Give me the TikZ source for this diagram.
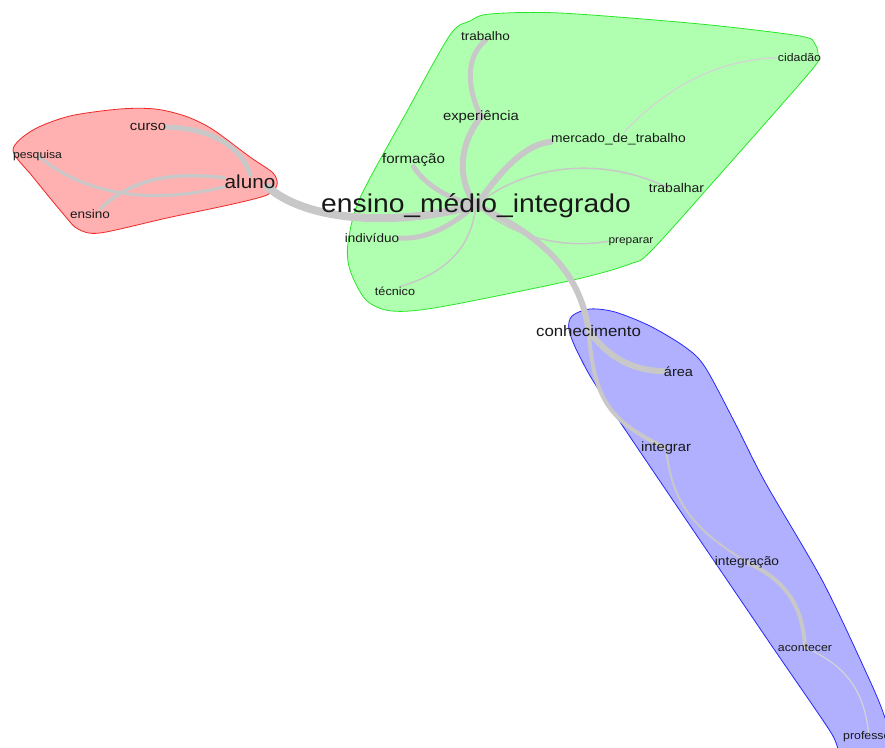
\documentclass[tikz,border=0pt]{standalone}
\usepackage{fontspec}
\setmainfont{Liberation Sans}[FakeStretch=1.1]
\usetikzlibrary{calc}
\pgfdeclarelayer{hulls}
\pgfdeclarelayer{edges}
\pgfsetlayers{hulls,edges,main}
\definecolor{edgegray}{RGB}{200,200,200}
\definecolor{edgelight}{RGB}{212,212,212}
\definecolor{hullred}{RGB}{255,176,176}
\definecolor{hullgreen}{RGB}{176,255,176}
\definecolor{hullblue}{RGB}{176,176,255}
\definecolor{linered}{RGB}{240,40,40}
\definecolor{linegreen}{RGB}{40,230,40}
\definecolor{lineblue}{RGB}{40,40,245}
\begin{document}
\begin{tikzpicture}[x=1pt,y=-1pt,
  lbl/.style={font=\fontsize{#1}{#1}\selectfont, inner sep=0pt, anchor=base, text=black!90},
  link/.style={draw=edgegray, line width=#1, line cap=round},
  hull/.style={line width=0.8pt}]
\useasboundingbox (0,0) rectangle (885,747);

% labels
\node[lbl=25.7] (emi) at (476,212) {ensino\_médio\_integrado};
\node[lbl=18.8] (aluno) at (250,188.5) {aluno};
\node[lbl=13.4] (curso) at (148,130.7) {curso};
\node[lbl=11.1] (pesquisa) at (37.5,158.5) {pesquisa};
\node[lbl=12.3] (ensino) at (90,218.3) {ensino};
\node[lbl=12.3] (trabalho) at (485.5,40) {trabalho};
\node[lbl=11.2] (cidadao) at (799.5,61.7) {cidadão};
\node[lbl=13.5] (experiencia) at (481,120) {experiência};
\node[lbl=12.6] (mercado) at (618.5,142) {mercado\_de\_trabalho};
\node[lbl=13.7] (formacao) at (413.5,163.5) {formação};
\node[lbl=12.7] (trabalhar) at (676.5,192.5) {trabalhar};
\node[lbl=12.3] (individuo) at (372,242.5) {indivíduo};
\node[lbl=10.8] (preparar) at (631,243) {preparar};
\node[lbl=11.5] (tecnico) at (395,295) {técnico};
\node[lbl=15.3] (conhecimento) at (588.5,336) {conhecimento};
\node[lbl=13.2] (area) at (678.5,376) {área};
\node[lbl=13.4] (integrar) at (666,451.5) {integrar};
\node[lbl=12.5] (integracao) at (747,565.5) {integração};
\node[lbl=11.2] (acontecer) at (805,651) {acontecer};
\node[lbl=11.2, anchor=base west] (professor) at (843,739.5) {professor};

% connectors
\begin{pgfonlayer}{edges}
\draw[link=8] ([xshift=-8pt,yshift=-5pt]aluno.east) .. controls (305,220) and (390,228) .. (emi.center);
\draw[link=5] (curso.east) .. controls (215,128) and (243,150) .. (aluno.north);
\draw[link=3] (pesquisa.center) .. controls (85,195) and (150,205) .. ([yshift=-5pt]aluno.west);
\draw[link=3.5] ([xshift=10pt]ensino.north) .. controls (125,185) and (160,170) .. ([yshift=4pt]aluno.west);
\draw[link=6] (emi.center) .. controls (460,185) and (455,150) .. (experiencia.center);
\draw[link=5] (experiencia.center) .. controls (470,95) and (462,60) .. (trabalho.south);
\draw[link=5] (emi.center) .. controls (450,200) and (425,185) .. (formacao.south);
\draw[link=6] (emi.center) .. controls (495,180) and (520,145) .. ([yshift=-3pt]mercado.west);
\draw[link=1.2, draw=edgelight] ([xshift=5pt]mercado.north) .. controls (650,105) and (700,60) .. (cidadao.west);
\draw[link=1.5] (emi.center) .. controls (525,165) and (600,155) .. ([xshift=-8pt]trabalhar.center);
\draw[link=1.5] (emi.center) .. controls (510,235) and (560,250) .. (preparar.west);
\draw[link=5] (emi.center) .. controls (455,222) and (430,240) .. (individuo.east);
\draw[link=1.5] (emi.center) .. controls (472,240) and (455,270) .. ([xshift=6pt]tecnico.north);
\draw[link=6] (emi.center) .. controls (540,235) and (580,270) .. (conhecimento.center);
\draw[link=6] (conhecimento.center) .. controls (605,352) and (625,370) .. (area.west);
\draw[link=4] (conhecimento.center) .. controls (594,395) and (605,420) .. (integrar.center);
\draw[link=2] (integrar.center) .. controls (672,505) and (695,530) .. (integracao.center);
\draw[link=4] (integracao.center) .. controls (785,580) and (803,605) .. (acontecer.center);
\draw[link=1.2, draw=edgelight] (acontecer.center) .. controls (845,665) and (865,690) .. (professor.center);
\end{pgfonlayer}

% community hulls
\begin{pgfonlayer}{hulls}
\fill[white] (0,0) rectangle (885,747);
\draw[hull, draw=linered, fill=hullred] plot[smooth cycle, tension=0.5] coordinates {
  (13,150) (33,130) (70,116) (120,109) (155,109) (185,116) (212,129) (250,157) (273,173)
  (277,185) (267,195) (233,204) (167,218) (100,233) (78,229) (65,216) (33,177)};
\draw[hull, draw=linegreen, fill=hullgreen] plot[smooth cycle, tension=0.5] coordinates {
  (470,21) (490,14) (560,13) (700,24) (800,36) (815,44) (818,58) (810,72) (730,163) (652,250)
  (630,264) (573,280) (440,307) (392,311) (366,300) (350,270) (348,243) (360,198) (405,115) (450,35)};
\draw[hull, draw=lineblue, fill=hullblue] plot[smooth cycle, tension=0.5] coordinates {
  (572,316) (590,309) (615,312) (650,326) (685,347) (705,367) (735,423) (765,482) (822,580) (865,670)
  (884,715) (895,760) (845,760) (830,731) (763,633) (610,407) (580,357) (569,330)};
\end{pgfonlayer}
\end{tikzpicture}
\end{document}
